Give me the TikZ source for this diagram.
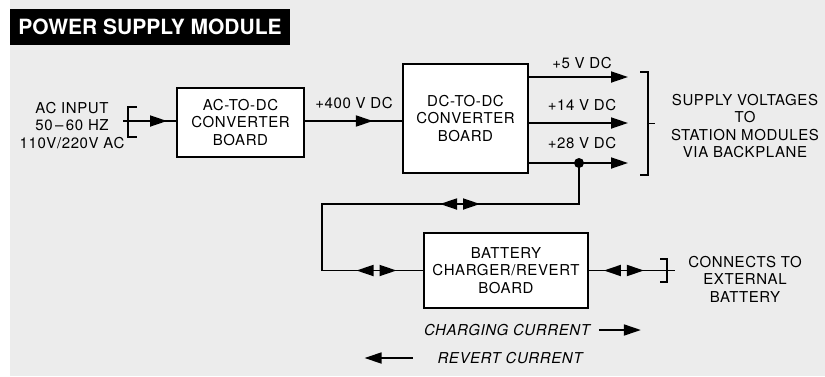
\documentclass[tikz,border=0pt]{standalone}
\usepackage{fontspec}
\setmainfont[LetterSpace=4]{TeX Gyre Heros}
\newfontfamily\titlefont{TeX Gyre Heros}
\usetikzlibrary{arrows.meta,positioning,decorations.markings}
\definecolor{panelgray}{RGB}{236,236,236}
\newcommand{\labelfont}{\fontsize{15}{17.5}\selectfont}

\begin{document}
\begin{tikzpicture}[
    x=1pt, y=-1pt,
    line width=1.8pt,
    >={Triangle[length=17pt,width=11pt]},
    every node/.style={font=\labelfont,align=center,inner sep=0pt},
    board/.style={rectangle,draw,fill=white,line width=1.8pt},
    legend/.style={font=\labelfont\itshape},
    fwd/.style={postaction={decorate},
      decoration={markings,mark=at position #1 with {\arrow{>}}}},
    both/.style 2 args={postaction={decorate},
      decoration={markings,mark=at position #1 with {\arrowreversed{>}},
        mark=at position #2 with {\arrow{>}}}}
  ]
    \useasboundingbox (0,0) rectangle (825,376);
    \fill[panelgray] (10,0) rectangle (825,376);
    \node[fill=black,text=white,minimum width=280pt,minimum height=36pt,
      font=\titlefont\fontsize{21}{24}\selectfont\bfseries] (title) at (150,27) {POWER SUPPLY MODULE};

    % boards
    \node[board,minimum width=127pt,minimum height=69pt] (acdc) at (240.5,122.5) {AC-TO-DC\\CONVERTER\\BOARD};
    \node[board,minimum width=125pt,minimum height=109pt] (dcdc) at (465.5,118.5) {DC-TO-DC\\CONVERTER\\BOARD};
    \node[board,minimum width=164pt,minimum height=75pt] (charger) at (506,270.5) {BATTERY\\CHARGER/REVERT\\BOARD};

    % labels
    \node (acin) at (72,125.5) {AC INPUT\\50\,--\,60 HZ\\110V/220V AC};
    \node (v400) at (354,103) {+400 V DC};
    \node (v5) at (582,63) {+5 V DC};
    \node (v14) at (582,105) {+14 V DC};
    \node (v28) at (582,143) {+28 V DC};
    \node (supply) at (745,126) {SUPPLY VOLTAGES\\TO\\STATION MODULES\\VIA BACKPLANE};
    \node (extbatt) at (745,279) {CONNECTS TO\\EXTERNAL\\BATTERY};
    \node[legend] (charging) at (507,330) {CHARGING CURRENT};
    \node[legend] (revert) at (510,358) {REVERT CURRENT};

    \coordinate (acfeed) at (123,121);
    \coordinate (o5) at (628,77);
    \coordinate (o14) at (628,123);
    \coordinate (o28) at (628,163);
    \coordinate (tap) at (579,163);
    \coordinate (batt) at (667,270.5);

    % brackets
    \draw (137,107) -| (128,137) -- (137,137);
    \draw (640,72) -| (648,175) -- (640,175);
    \draw (648,123.5) -- (655,123.5);
    \draw (660,259) -| (667,282) -- (660,282);
    \draw (batt) -- (675,270.5);

    % power path
    \draw[fwd=44pt] (acfeed) -- (acfeed -| acdc.west);
    \draw[fwd=68pt] (acfeed -| acdc.east) -- (acfeed -| dcdc.west);
    \draw[->] (dcdc.east |- o5) -- (o5);
    \draw[->] (dcdc.east |- o14) -- (o14);
    \draw[->] (dcdc.east |- o28) -- (o28);
    \fill (tap) circle (5pt);

    % battery loop
    \draw[postaction={decorate},
      decoration={markings,
        mark=at position 140pt with {\arrowreversed{>}},
        mark=at position 180pt with {\arrow{>}},
        mark=at position 399pt with {\arrowreversed{>}},
        mark=at position 439pt with {\arrow{>}}}]
      (tap) |- (322,204) |- (charger.west);
    \draw[both={15pt}{55pt}] (charger.east) -- (batt);

    % legend arrows
    \coordinate[right=8pt of charging.east] (chgtail);
    \coordinate[right=50pt of charging.east] (chgtip);
    \draw[->] (chgtail) -- (chgtip);
    \coordinate[left=24pt of revert.west] (revtail);
    \coordinate[left=72pt of revert.west] (revtip);
    \draw[->] (revtail) -- (revtip);
  \end{tikzpicture}
\end{document}
